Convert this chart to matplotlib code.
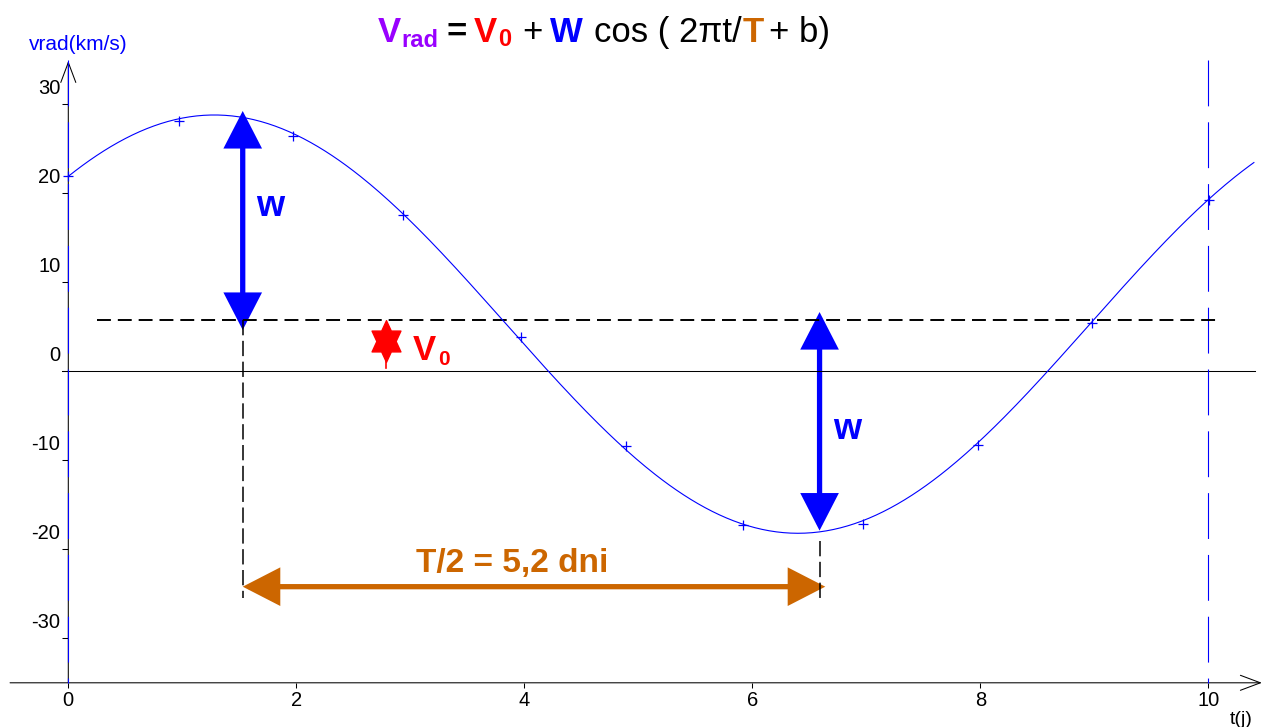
import numpy as np
import matplotlib
matplotlib.use("Agg")
import matplotlib.pyplot as plt
from matplotlib.patches import FancyArrowPatch
from matplotlib.path import Path
from matplotlib.transforms import offset_copy

plt.rcParams['font.family'] = ['Liberation Sans', 'DejaVu Sans']
plt.rcParams['lines.scale_dashes'] = False

PURPLE = '#9900ff'
RED = '#ff0000'
BLUE = '#0000ff'
ORANGE = '#cc6600'

# measured points (t in days, vrad in km/s)
t_obs = [0.0, 0.97, 1.97, 2.94, 3.97, 4.89, 5.92, 6.97, 7.98, 8.98, 10.01]
v_obs = [21.9, 28.1, 26.4, 17.6, 3.8, -8.4, -17.3, -17.2, -8.3, 5.4, 19.2]

# fitted curve parameters  Vrad = V0 + W cos(2 pi t / T + b)
V0 = 5.3
W = 23.5
T = 10.24
b = -0.786
t_end = 10.40

x_ticks = [0, 2, 4, 6, 8, 10]
y_ticks = [-30, -20, -10, 0, 10, 20, 30]

# annotation values (data units)
v0_line = 5.76
t_a1, v_a1 = 1.53, (4.64, 29.25)
t_a2, v_a2 = 6.59, (6.66, -17.9)
v_half = -24.2
t_half = (1.53, 6.64)
v_drop = -25.5
star_t, star_v = 2.79, 3.4

x_axis_v = -35.0

fig = plt.figure(figsize=(12.63, 7.27), dpi=100)
ax = fig.add_axes([0, 0, 1, 1])
ax.set_xlim(-68.3 / 114, (1263 - 68.3) / 114)
ax.set_ylim((371.3 - 727) / 8.9, 371.3 / 8.9)
for s in ax.spines.values():
    s.set_visible(False)
ax.spines['left'].set_position(('data', 0))
ax.spines['bottom'].set_position(('data', x_axis_v))

ax.set_xticks(x_ticks)
ax.set_xticklabels([str(x) for x in x_ticks], fontsize=14.5)
ax.set_yticks(y_ticks)
ax.tick_params(axis='y', labelleft=False, length=4.3, width=0.75, direction='out')
ax.tick_params(axis='x', length=3.3, width=0.75, direction='out', pad=2.5)

# y labels sit above their ticks
ylab_tr = offset_copy(ax.transData, fig=fig, x=-8, y=10.5, units='dots')
for y in y_ticks:
    ax.text(0, y, str(y), transform=ylab_tr, ha='right', va='baseline', fontsize=14.5)

# axes with open arrowheads
def axis_arrow(p0, p1):
    a = FancyArrowPatch(p0, p1, arrowstyle='->,head_length=14.4,head_width=5.4',
                        mutation_scale=1, lw=0.75, color='black', shrinkA=0, shrinkB=0)
    ax.add_patch(a)

axis_arrow((-0.511, x_axis_v), (10.47, x_axis_v))
axis_arrow((0, x_axis_v), (0, 34.87))
ax.plot([-0.055, 10.41], [0, 0], color='black', lw=0.75)

# blue long-dash verticals at t=0 and t=10
for tx in (0, 10):
    ax.plot([tx, tx], [34.95, x_axis_v], color=BLUE, lw=0.8, dashes=(33, 11.5))

# V0 dashed level and drop lines
ax.plot([0.25, 10.085], [v0_line, v0_line], color='black', lw=1.4, dashes=(10, 5))
ax.plot([t_a1, t_a1], [v0_line, v_drop], color='black', lw=1.1, dashes=(11, 4))
ax.plot([t_a2, t_a2], [-19.1, v_drop], color='black', lw=1.1, dashes=(11, 4))

# fitted curve and data points
tc = np.linspace(0, t_end, 500)
vc = V0 + W * np.cos(2 * np.pi * tc / T + b)
ax.plot(tc, vc, color=BLUE, lw=0.8)
ax.plot(t_obs, v_obs, ls='none', marker='+', ms=7, mew=0.9, mec=BLUE)

# thick double arrows
def fat_arrow(p0, p1, color):
    a = FancyArrowPatch(p0, p1, arrowstyle='<|-|>,head_length=21,head_width=10.8',
                        mutation_scale=1, lw=3.8, color=color, shrinkA=0, shrinkB=0,
                        joinstyle='miter', capstyle='butt')
    ax.add_patch(a)

fat_arrow((t_a1, v_a1[0]), (t_a1, v_a1[1]), BLUE)
fat_arrow((t_a2, v_a2[0]), (t_a2, v_a2[1]), BLUE)
fat_arrow((t_half[0], v_half), (t_half[1], v_half), ORANGE)

ax.text(1.77, 18.5, 'w', color=BLUE, fontsize=26, fontweight='bold', ha='center', va='center')
ax.text(6.83, -6.5, 'w', color=BLUE, fontsize=26, fontweight='bold', ha='center', va='center')

# V0 star with its small tail
ang = np.deg2rad(np.arange(12) * 30 + 90)
rad = np.where(np.arange(12) % 2 == 0, 1.0, 0.577)
verts = np.column_stack([rad * np.cos(ang), 1.25 * rad * np.sin(ang)])
verts = np.vstack([verts, verts[:1]])
codes = [Path.MOVETO] + [Path.LINETO] * 11 + [Path.CLOSEPOLY]
star = Path(verts, codes)
ax.plot([star_t, star_t], [star_v - 1.5, star_v - 3.0], color=RED, lw=1.2)
ax.plot([star_t], [star_v], marker=star, ms=30, color=RED, mec=RED)
ax.text(3.02, 1.27, 'V', color=RED, fontsize=25, fontweight='bold', ha='left', va='baseline')
ax.text(3.24, 0.72, '0', color=RED, fontsize=15, fontweight='bold', ha='left', va='baseline')

ax.text(3.89, -22.6, 'T/2 = 5,2 dni', color=ORANGE, fontsize=24, fontweight='bold',
        ha='center', va='baseline')

# axis names
fig.text(29 / 1263, 1 - 50 / 727, 'vrad(km/s)', color=BLUE, fontsize=15, ha='left', va='baseline')
fig.text(1230 / 1263, 1 - 724 / 727, 't(j)', color='black', fontsize=14, ha='left', va='baseline')

# coloured title, piece by piece
title_parts = [
    (378, 41.7, 'V', PURPLE, 25, 'bold'),
    (401, 46.7, 'rad', PURPLE, 17, 'bold'),
    (447, 41.7, '=', 'black', 25, 'bold'),
    (474, 41.7, 'V', RED, 25, 'bold'),
    (498, 45.7, '0', RED, 17, 'bold'),
    (522, 41.7, '+', 'black', 25, 'normal'),
    (550, 41.7, 'W', BLUE, 25, 'bold'),
    (594, 41.7, 'cos ( 2\u03c0t/', 'black', 25, 'normal'),
    (743, 41.7, 'T', ORANGE, 25, 'bold'),
    (769, 41.7, '+ b)', 'black', 25, 'normal'),
]
for px, py, s, c, fs, fw in title_parts:
    fig.text(px / 1263, 1 - py / 727, s, color=c, fontsize=fs, fontweight=fw,
             ha='left', va='baseline')

fig.savefig('out.png', dpi=100)
